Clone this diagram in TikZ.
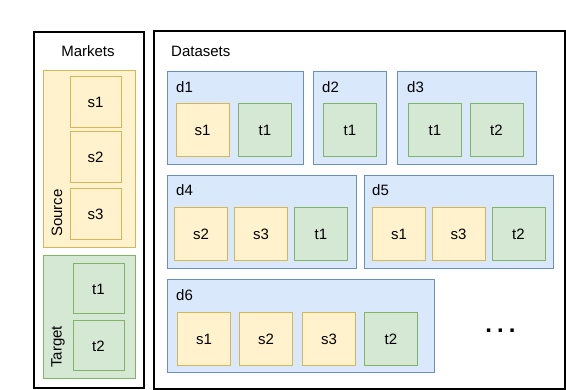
\documentclass[tikz,border=0pt]{standalone}
\usepackage{fontspec}
\setmainfont{Liberation Sans}
\definecolor{yfill}{HTML}{FFF2CC}
\definecolor{ydraw}{HTML}{D6B656}
\definecolor{gfill}{HTML}{D5E8D4}
\definecolor{gdraw}{HTML}{82B366}
\definecolor{bfill}{HTML}{DAE8FC}
\definecolor{bdraw}{HTML}{6C8EBF}
\tikzset{
  base/.style={anchor=north west, inner sep=0pt, outer sep=0pt, font=\fontsize{15}{18}\selectfont},
  outerbox/.style={base, draw=black, line width=1.3pt, fill=white},
  srcgroup/.style={base, draw=ydraw, fill=yfill, line width=1pt},
  tgtgroup/.style={base, draw=gdraw, fill=gfill, line width=1pt},
  dsgroup/.style={base, draw=bdraw, fill=bfill, line width=1pt},
  sbox/.style={base, draw=ydraw, fill=yfill, line width=1pt, minimum width=53pt, minimum height=53pt, anchor=center},
  tbox/.style={base, draw=gdraw, fill=gfill, line width=1pt, minimum width=53pt, minimum height=53pt, anchor=center},
  lbl/.style={inner sep=0pt, font=\fontsize{15}{18}\selectfont},
}
\begin{document}
\begin{tikzpicture}[x=1pt,y=-1pt]
\useasboundingbox (0,0) rectangle (566,390);
% Markets
\node[outerbox, minimum width=110pt, minimum height=356pt] (markets) at (34,32) {};
\node[lbl] (marketslbl) at (88,51) {Markets};
\node[srcgroup, minimum width=92pt, minimum height=177pt] (source) at (43,71) {};
\node[lbl, rotate=90] (sourcelbl) at (57,213) {Source};
\node[sbox, minimum width=51pt, minimum height=51pt] (ms1) at (95.5,102) {s1};
\node[sbox, minimum width=51pt, minimum height=51pt] (ms2) at (95.5,157.5) {s2};
\node[sbox, minimum width=51pt, minimum height=51pt] (ms3) at (95.5,214.5) {s3};
\node[tgtgroup, minimum width=92pt, minimum height=123pt] (target) at (43,256) {};
\node[lbl, rotate=90] (targetlbl) at (58,347) {Target};
\node[tbox, minimum width=51pt, minimum height=50pt] (mt1) at (98.5,289) {t1};
\node[tbox, minimum width=51pt, minimum height=50pt] (mt2) at (98.5,346) {t2};
% Datasets
\node[outerbox, minimum width=411pt, minimum height=358pt] (datasets) at (154,31) {};
\node[lbl, anchor=west] (datasetslbl) at (171,51) {Datasets};
% d1
\node[dsgroup, minimum width=136pt, minimum height=93pt] (d1) at (167,72) {};
\node[lbl, anchor=west] (d1lbl) at (176,87) {d1};
\node[sbox] (d1s1) at (202.5,130.5) {s1};
\node[tbox] (d1t1) at (265,130.5) {t1};
% d2
\node[dsgroup, minimum width=73pt, minimum height=93pt] (d2) at (313,72) {};
\node[lbl, anchor=west] (d2lbl) at (322,87) {d2};
\node[tbox] (d2t1) at (350,130.5) {t1};
% d3
\node[dsgroup, minimum width=139pt, minimum height=93pt] (d3) at (397,72) {};
\node[lbl, anchor=west] (d3lbl) at (407,87) {d3};
\node[tbox] (d3t1) at (435,130.5) {t1};
\node[tbox] (d3t2) at (496.5,130.5) {t2};
% d4
\node[dsgroup, minimum width=189pt, minimum height=93pt] (d4) at (167,176) {};
\node[lbl, anchor=west] (d4lbl) at (176,190) {d4};
\node[sbox] (d4s2) at (201,234.5) {s2};
\node[sbox] (d4s3) at (261,234.5) {s3};
\node[tbox] (d4t1) at (321,234.5) {t1};
% d5
\node[dsgroup, minimum width=189pt, minimum height=93pt] (d5) at (364,176) {};
\node[lbl, anchor=west] (d5lbl) at (372,190) {d5};
\node[sbox] (d5s1) at (399,234.5) {s1};
\node[sbox] (d5s3) at (458.5,234.5) {s3};
\node[tbox] (d5t2) at (518.5,234.5) {t2};
% d6
\node[dsgroup, minimum width=267pt, minimum height=93pt] (d6) at (167,280) {};
\node[lbl, anchor=west] (d6lbl) at (176,295) {d6};
\node[sbox] (d6s1) at (204,339) {s1};
\node[sbox] (d6s2) at (266,339) {s2};
\node[sbox] (d6s3) at (329,339) {s3};
\node[tbox] (d6t2) at (391,339) {t2};
% dots
\node[lbl] (dots) at (500.5,331) {\fontsize{24}{24}\selectfont\textbf{.\hspace{5pt}.\hspace{5pt}.}};
\end{tikzpicture}
\end{document}
